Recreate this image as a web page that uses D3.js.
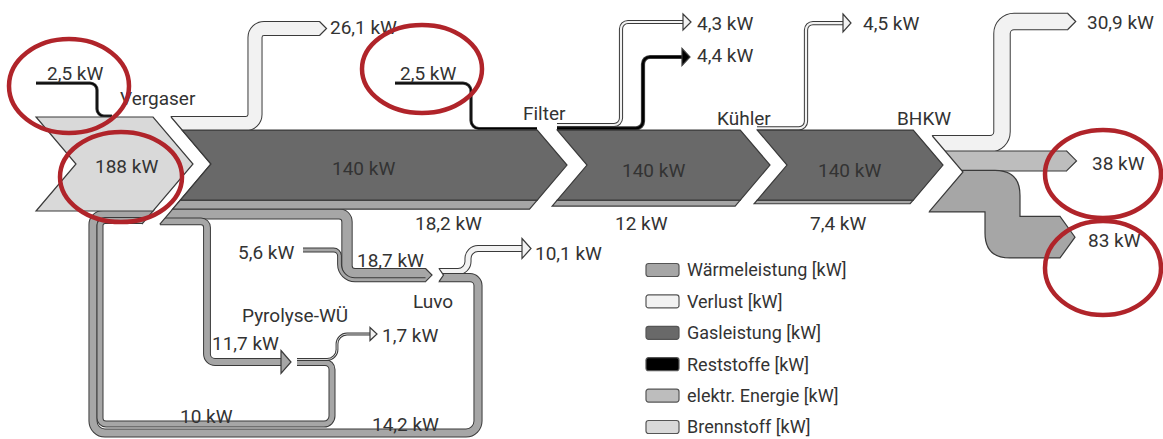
<!DOCTYPE html>
<html>
<head>
<meta charset="utf-8">
<script src="https://cdn.jsdelivr.net/npm/d3@7"></script>
<style>
  body { margin: 0; background: #fff; }
  text { font-family: Roboto, "Open Sans", sans-serif; fill: #333; }
</style>
</head>
<body>
<svg id="chart" width="1163" height="439"></svg>
<script>
// values, all in kW
var stageNames = ["Vergaser", "Filter", "Kühler", "BHKW", "Luvo", "Pyrolyse-WÜ"];
var legendLabels = ["Wärmeleistung [kW]", "Verlust [kW]", "Gasleistung [kW]", "Reststoffe [kW]", "elektr. Energie [kW]", "Brennstoff [kW]"];
var fuelInput = 188;
var gasPower = [140, 140, 140];                 // after Vergaser, Filter, Kühler
var gasHeat = [18.2, 12, 7.4];                  // heat strip under the gas bar
var lossValues = [26.1, 4.3, 4.5, 30.9, 10.1, 1.7]; // Vergaser, Filter, Kühler, BHKW, Luvo, Pyrolyse-WÜ
var residueValues = [2.5, 2.5, 4.4];            // into Vergaser, into Filter, out of Filter
var heatValues = [18.7, 5.6, 11.7, 14.2, 10, 83];  // to Luvo, extra to Luvo, to Pyrolyse, Luvo back, Pyrolyse back, BHKW
var electricValues = [38];

var colors = d3.scaleOrdinal(legendLabels, ["#a6a6a6", "#f2f2f2", "#696969", "#000000", "#bdbdbd", "#d9d9d9"]);
var HEAT = colors(legendLabels[0]), LOSS = colors(legendLabels[1]), GAS = colors(legendLabels[2]),
    REST = colors(legendLabels[3]), ELEC = colors(legendLabels[4]), FUEL = colors(legendLabels[5]);
var OUT = "#3a3a3a";

// band thickness in px per kW
var kw = d3.scaleLinear().domain([0, fuelInput]).range([0, 94]);
var fmt = d3.formatLocale({decimal: ",", thousands: ".", grouping: [3], currency: ["", " €"]}).format("~g");
function lab(v) { return fmt(v) + " kW"; }

var svg = d3.select("#chart");
var gBands = svg.append("g"), gGaps = svg.append("g"), gBlocks = svg.append("g"), gText = svg.append("g");

var SL = 0.85; // chevron slope
function rounded(pts, r) {
  var p = d3.path();
  p.moveTo(pts[0][0], pts[0][1]);
  for (var i = 1; i < pts.length - 1; i++) {
    var rr = Array.isArray(r) ? r[i - 1] : r;
    p.arcTo(pts[i][0], pts[i][1], pts[i + 1][0], pts[i + 1][1], rr);
  }
  p.lineTo(pts[pts.length - 1][0], pts[pts.length - 1][1]);
  return p.toString();
}
function band(pts, v, color, r) {
  var d = rounded(pts, r || 8), w = kw(v);
  gBands.append("path").attr("d", d).attr("fill", "none").attr("stroke", OUT).attr("stroke-width", w + 2);
  gBands.append("path").attr("d", d).attr("fill", "none").attr("stroke", color).attr("stroke-width", w);
}
function tip(x, yc, w, color, len) {
  len = len || Math.min(w / 2, 15);
  gBands.append("path")
    .attr("d", "M" + (x - 0.5) + "," + (yc - w / 2 - 0.5) + "L" + (x + len) + "," + yc + "L" + (x - 0.5) + "," + (yc + w / 2 + 0.5))
    .attr("fill", color).attr("stroke", OUT).attr("stroke-width", 1.2);
}
function head(x, yc, half, len, color) {
  gBands.append("path")
    .attr("d", "M" + x + "," + (yc - half) + "L" + (x + len) + "," + yc + "L" + x + "," + (yc + half) + "Z")
    .attr("fill", color).attr("stroke", OUT).attr("stroke-width", 1.2);
}
function chev(y0, y1, lt, lm, rt, rm) {
  var L = function(y) { return lt - SL * Math.abs(y - lm); };
  var R = function(y) { return rt - SL * Math.abs(y - rm); };
  var pts = [[L(y0), y0]];
  if (lm > y0 && lm < y1) pts.push([lt, lm]);
  pts.push([L(y1), y1], [R(y1), y1]);
  if (rm > y0 && rm < y1) pts.push([rt, rm]);
  pts.push([R(y0), y0]);
  return pts;
}
function block(pts, fill) {
  gBlocks.append("path").attr("d", "M" + pts.join("L") + "Z")
    .attr("fill", fill).attr("stroke", OUT).attr("stroke-width", 1.2);
}
function gap(y0, y1, lt, lm, rt, rm, e0, e1) {
  var L = function(y) { return lt - SL * Math.abs(y - lm); };
  var R = function(y) { return rt - SL * Math.abs(y - rm); };
  var pts = [[L(y0), y0], [lt, lm], [L(y1), y1], [R(y1), y1], [rt, rm], [R(y0), y0]];
  gGaps.append("path").attr("d", "M" + pts.join("L") + "Z").attr("fill", "#fff");
  gGaps.append("path").attr("d", "M" + [[R(e0), e0], [rt, rm], [R(e1), e1]].join("L"))
    .attr("fill", "none").attr("stroke", OUT).attr("stroke-width", 1.2);
  return L;
}

// vertical layout derived from the values
var vTop = 117, vBot = vTop + kw(fuelInput), vMid = (vTop + vBot) / 2;
var gasTop = vTop + kw(lossValues[0]), gasBot = gasTop + kw(gasPower[0]), gasMid = (gasTop + gasBot) / 2;
var strip1Bot = gasBot + kw(gasHeat[0]);
var yLuvoIn = strip1Bot + kw(heatValues[0]) / 2;
var yPyroIn = strip1Bot + kw(heatValues[0]) + kw(heatValues[2]) / 2;
var yLoopOut = vBot + kw(heatValues[3]) / 2;
var yLoopIn = vBot + kw(heatValues[3]) + kw(heatValues[4]) / 2;
var luvoTop = 269;
var pyroY = 362, pyroTop = pyroY - kw(heatValues[2]) / 2;
var bhkwTop = 136;

// chevron columns
var vNotch = 76, vTip = 193, segNotch = [211, 587, 787], segTip = [567, 770, 943];

// ---- Vergaser outputs
band([[160, vTop + kw(lossValues[0]) / 2], [255, vTop + kw(lossValues[0]) / 2], [255, 28.5], [320, 28.5]], lossValues[0], LOSS, 9);
tip(320, 28.5, kw(lossValues[0]), LOSS);
band([[160, yLuvoIn], [347, yLuvoIn], [347, luvoTop + kw(heatValues[0]) / 2], [426, luvoTop + kw(heatValues[0]) / 2]], heatValues[0], HEAT, 8);
var y56 = luvoTop + kw(heatValues[0]) + kw(heatValues[1]) / 2;
band([[303, 250], [339.5, 250], [339.5, y56], [426, y56]], heatValues[1], HEAT, [6, 15.5]);
tip(426, luvoTop + (kw(heatValues[0]) + kw(heatValues[1])) / 2, kw(heatValues[0]) + kw(heatValues[1]), HEAT, 6);
band([[160, yPyroIn], [207, yPyroIn], [207, pyroY], [281, pyroY]], heatValues[2], HEAT, [6, 8]);
head(281, pyroY, 11.5, 10, HEAT);

// residues into Vergaser and Filter
band([[36, 83], [97, 83], [97, 116], [112, 116]], residueValues[0], REST, 7);
band([[395, 83], [471, 83], [471, gasTop - 1.5], [537, gasTop - 1.5]], residueValues[1], REST, 8);

// Filter outputs
band([[557, 128.3], [643, 128.3], [643, 57], [682, 57]], residueValues[2], REST, 7);
head(682, 57, 8.5, 8, REST);
band([[557, 125], [621, 125], [621, 22], [683, 22]], lossValues[1], LOSS, 7);
head(683, 22, 8, 8, LOSS);
// Kühler loss
band([[757, 128.3], [806, 128.3], [806, 23], [843, 23]], lossValues[2], LOSS, 7);
head(843, 23, 9, 8, LOSS);

// Luvo outputs
var y101 = luvoTop + kw(lossValues[4]) / 2, y142 = luvoTop + kw(lossValues[4]) + kw(heatValues[3]) / 2;
band([[438, y101], [468, y101], [468, 248.5], [522, 248.5]], lossValues[4], LOSS, 10);
head(522, 248.5, 10, 9, LOSS);
band([[438, y142], [478, y142], [478, 433], [93, 433], [93, yLoopOut], [160, yLoopOut]], heatValues[3], HEAT, [8, 12, 12, 10]);

// Pyrolyse-WÜ outputs
var y17 = pyroTop + kw(lossValues[5]) / 2, y10 = pyroTop + kw(lossValues[5]) + kw(heatValues[4]) / 2;
band([[297, y10], [332, y10], [332, 424], [100, 424], [100, yLoopIn], [160, yLoopIn]], heatValues[4], HEAT, [7, 8, 6, 5]);
band([[297, y17], [337, y17], [337, 334], [370, 334]], lossValues[5], LOSS, 10);
head(370, 334, 6.5, 7, LOSS);

// Luvo notch
var luvoBot = luvoTop + kw(lossValues[4]) + kw(heatValues[3]), luvoMid = (luvoTop + luvoBot) / 2;
gGaps.append("path").attr("d", "M437," + (luvoTop - 3) + "L443.5," + luvoMid + "L437," + (luvoBot + 3) + "Z").attr("fill", "#fff");
gGaps.append("path").attr("d", "M" + [[439, luvoTop - 0.5], [443.5, luvoMid], [439, luvoBot + 0.5]].join("L"))
  .attr("fill", "none").attr("stroke", OUT).attr("stroke-width", 1.2);

// BHKW outputs
var y309 = bhkwTop + kw(lossValues[3]) / 2;
band([[920, y309], [1002, y309], [1002, 21.5], [1068, 21.5]], lossValues[3], LOSS, 12);
tip(1068, 21.5, kw(lossValues[3]), LOSS);
var y38 = bhkwTop + kw(lossValues[3]) + kw(electricValues[0]) / 2;
band([[920, y38], [1067, y38]], electricValues[0], ELEC);
tip(1067, y38, kw(electricValues[0]), ELEC);
var y83 = bhkwTop + kw(lossValues[3]) + kw(electricValues[0]), w83 = kw(heatValues[5]), drop = 46;
var p83 = d3.path();
p83.moveTo(920, y83); p83.lineTo(995, y83);
p83.quadraticCurveTo(1020, y83, 1020, y83 + 25);
p83.lineTo(1020, y83 + drop); p83.lineTo(1060, y83 + drop);
p83.lineTo(1075, y83 + drop + w83 / 2); p83.lineTo(1060, y83 + drop + w83);
p83.lineTo(1010, y83 + drop + w83);
p83.quadraticCurveTo(985, y83 + drop + w83, 985, y83 + drop + w83 - 25);
p83.lineTo(985, y83 + w83); p83.lineTo(920, y83 + w83); p83.closePath();
gBands.append("path").attr("d", p83.toString()).attr("fill", HEAT).attr("stroke", OUT).attr("stroke-width", 1.2);

// gaps between stages
var vRight = gap(112, 226, vTip, vMid, segNotch[0], vMid, vTop, yPyroIn + kw(heatValues[2]) / 2);
gGaps.append("path").attr("d", "M" + [[vRight(vBot - 2), vBot - 2], [vRight(yLoopIn + kw(heatValues[4]) / 2 + 1), yLoopIn + kw(heatValues[4]) / 2 + 1]].join("L"))
  .attr("fill", "none").attr("stroke", OUT).attr("stroke-width", 1.2);
var bhkwBot = y83 + w83;
gap(126, 216, segTip[2], gasMid, 963, 172, bhkwTop, bhkwBot);

// stage blocks
block(chev(vTop, vBot, vNotch, vMid, vTip, vMid), FUEL);
var stripBot = gasHeat.map(function(v) { return gasBot + kw(v); });
segNotch.forEach(function(n, i) {
  block(chev(gasBot, stripBot[i], n, i === 0 ? vMid : gasMid, segTip[i], gasMid), HEAT);
  block(chev(gasTop, gasBot, n, i === 0 ? vMid : gasMid, segTip[i], gasMid), GAS);
});

// texts
function txt(s, x, y, size) {
  gText.append("text").attr("x", x).attr("y", y).attr("dy", "0.35em")
    .attr("font-size", size || 19).text(s);
}
txt(lab(residueValues[0]), 47, 73);
txt(stageNames[0], 120, 98);
txt(lab(fuelInput), 95, 166);
txt(lab(lossValues[0]), 330, 27);
txt(lab(residueValues[1]), 400, 73);
txt(stageNames[1], 523, 113);
txt(lab(lossValues[1]), 697, 23);
txt(lab(residueValues[2]), 697, 55);
txt(stageNames[2], 717, 118);
txt(lab(lossValues[2]), 863, 23);
txt(stageNames[3], 897, 118);
txt(lab(lossValues[3]), 1087, 22);
txt(lab(electricValues[0]), 1092, 163);
txt(lab(heatValues[5]), 1088, 240);
txt(lab(gasPower[0]), 332, 168);
txt(lab(gasPower[1]), 622, 170);
txt(lab(gasPower[2]), 818, 170);
txt(lab(gasHeat[0]), 415, 223);
txt(lab(gasHeat[1]), 615, 223);
txt(lab(gasHeat[2]), 810, 223);
txt(lab(heatValues[1]), 238, 252);
txt(lab(heatValues[0]), 357, 260);
txt(lab(lossValues[4]), 535, 253);
txt(stageNames[4], 413, 301);
txt(stageNames[5], 242, 315);
txt(lab(heatValues[2]), 212, 343);
txt(lab(lossValues[5]), 382, 335);
txt(lab(heatValues[4]), 180, 416);
txt(lab(heatValues[3]), 372, 424);

// legend
var ly = d3.scalePoint().domain(legendLabels).range([270, 427]);
var leg = svg.append("g").selectAll("g").data(legendLabels).join("g")
  .attr("transform", function(d) { return "translate(646," + ly(d) + ")"; });
leg.append("rect").attr("x", 0).attr("y", -6.5).attr("width", 33).attr("height", 13).attr("rx", 2.5)
  .attr("fill", function(d) { return colors(d); }).attr("stroke", "#555").attr("stroke-width", 1.2);
leg.append("text").attr("x", 41).attr("dy", "0.35em").attr("font-size", 18).text(function(d) { return d; });

// red annotation circles
var marks = svg.append("g").attr("fill", "none").attr("stroke", "#b0242a").attr("stroke-width", 4.5);
[[69, 86, 60, 47], [121, 177, 61, 45], [422, 69, 60, 44], [1103, 174, 58, 44], [1103, 268, 58, 47]].forEach(function(e) {
  marks.append("ellipse").attr("cx", e[0]).attr("cy", e[1]).attr("rx", e[2]).attr("ry", e[3]);
});
</script>
</body>
</html>
